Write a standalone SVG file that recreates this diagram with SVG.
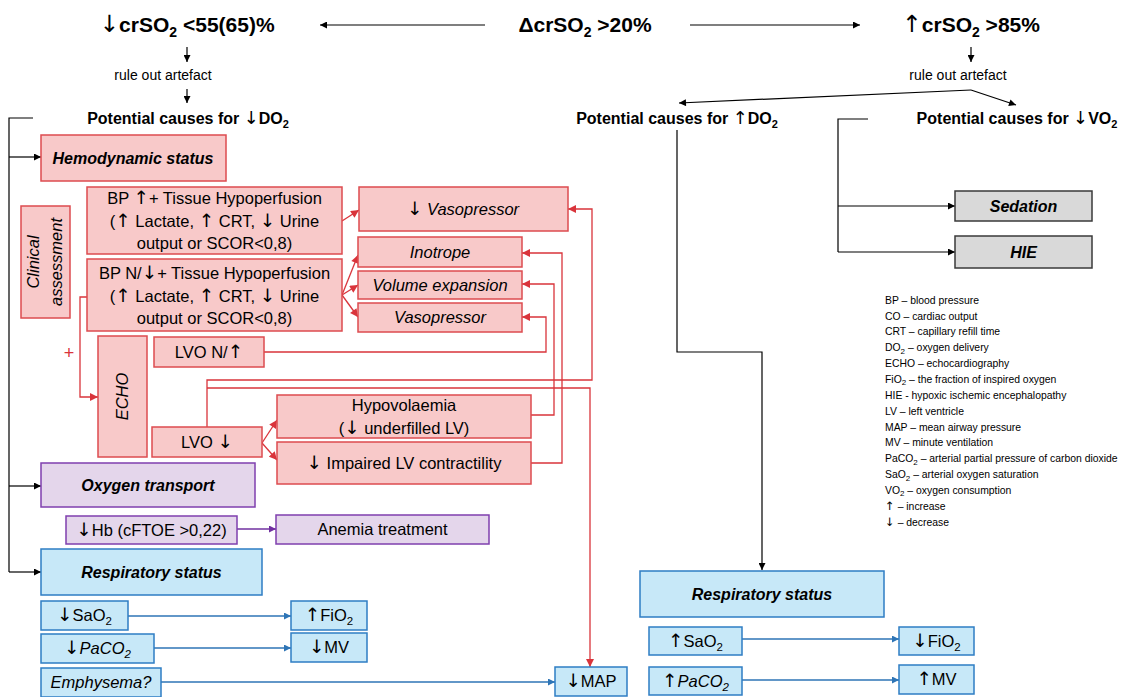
<svg xmlns="http://www.w3.org/2000/svg" width="1126" height="697" viewBox="0 0 1126 697">
<defs>
<style>
text{font-family:"Liberation Sans",Arial,sans-serif;fill:#000}
.title{font-size:21px;font-weight:bold}
.pc{font-size:16px;font-weight:bold}
.small{font-size:14px}
.t{font-size:16.5px}
.it{font-style:italic}
.hd{font-size:16px;font-weight:bold;font-style:italic}
.leg{font-size:10.4px}
.a{font-family:"DejaVu Sans",sans-serif;font-size:112%;font-weight:normal;font-style:normal}
.red{fill:#f8c9c9;stroke:#dd4b4f;stroke-width:1.5}
.pur{fill:#e4d6eb;stroke:#7f3fae;stroke-width:1.5}
.blu{fill:#c7e8f8;stroke:#2e7dc4;stroke-width:1.5}
.gry{fill:#d9d9d9;stroke:#3a3a3a;stroke-width:1.5}
.ck{fill:none;stroke:#000;stroke-width:1.2}
.cr{fill:none;stroke:#d9343b;stroke-width:1.3}
.cb{fill:none;stroke:#2e75b6;stroke-width:1.3}
.cp{fill:none;stroke:#7030a0;stroke-width:1.5}
</style>
<marker id="ak" viewBox="0 0 10 10" refX="10" refY="5" markerWidth="8" markerHeight="7" markerUnits="userSpaceOnUse" orient="auto"><path d="M0,0 L10,5 L0,10 z" fill="#000"/></marker>
<marker id="ar" viewBox="0 0 10 10" refX="10" refY="5" markerWidth="9" markerHeight="8" markerUnits="userSpaceOnUse" orient="auto"><path d="M0,0 L10,5 L0,10 z" fill="#d9343b"/></marker>
<marker id="ab" viewBox="0 0 10 10" refX="10" refY="5" markerWidth="9" markerHeight="7" markerUnits="userSpaceOnUse" orient="auto"><path d="M0,0 L10,5 L0,10 z" fill="#2e75b6"/></marker>
<marker id="ap" viewBox="0 0 10 10" refX="10" refY="5" markerWidth="9" markerHeight="7" markerUnits="userSpaceOnUse" orient="auto"><path d="M0,0 L10,5 L0,10 z" fill="#7030a0"/></marker>
</defs>
<rect width="1126" height="697" fill="#fff"/>

<g id="connectors">
<line class="ck" x1="485" y1="25" x2="320" y2="25" marker-end="url(#ak)"/>
<line class="ck" x1="690" y1="25" x2="860" y2="25" marker-end="url(#ak)"/>
<line class="ck" x1="187" y1="47" x2="187" y2="62" marker-end="url(#ak)"/>
<line class="ck" x1="187" y1="89" x2="187" y2="103" marker-end="url(#ak)"/>
<line class="ck" x1="971" y1="47" x2="971" y2="62" marker-end="url(#ak)"/>
<line class="ck" x1="971" y1="90" x2="679" y2="103" marker-end="url(#ak)"/>
<line class="ck" x1="971" y1="90" x2="1016" y2="105" marker-end="url(#ak)"/>
<polyline class="ck" points="33,118 9,118 9,572"/>
<line class="ck" x1="9" y1="157" x2="41" y2="157" marker-end="url(#ak)"/>
<line class="ck" x1="9" y1="486" x2="41" y2="486" marker-end="url(#ak)"/>
<line class="ck" x1="9" y1="572" x2="41" y2="572" marker-end="url(#ak)"/>
<polyline class="ck" points="868,119 838,119 838,252"/>
<line class="ck" x1="838" y1="206" x2="955" y2="206" marker-end="url(#ak)"/>
<line class="ck" x1="838" y1="252" x2="955" y2="252" marker-end="url(#ak)"/>
<polyline class="ck" points="677,130 677,352 762,352 762,570" marker-end="url(#ak)"/>

<line class="cr" x1="342" y1="221" x2="359" y2="210" marker-end="url(#ar)"/>
<line class="cr" x1="342" y1="295" x2="358" y2="255" marker-end="url(#ar)"/>
<line class="cr" x1="342" y1="295" x2="358" y2="285" marker-end="url(#ar)"/>
<line class="cr" x1="342" y1="295" x2="358" y2="317" marker-end="url(#ar)"/>
<polyline class="cr" points="87,297 80,297 80,397 98,397" marker-end="url(#ar)"/>
<polyline class="cr" points="264,352 546,352 546,317 522,317" marker-end="url(#ar)"/>
<polyline class="cr" points="531,415 554,415 554,284 522,284" marker-end="url(#ar)"/>
<polyline class="cr" points="531,463 562,463 562,253 522,253" marker-end="url(#ar)"/>
<polyline class="cr" points="207,427 207,380 592,380 592,209 568,209" marker-end="url(#ar)"/>
<polyline class="cr" points="207,388 590,388 590,667" marker-end="url(#ar)"/>
<line class="cr" x1="262" y1="443" x2="277" y2="420" marker-end="url(#ar)"/>
<line class="cr" x1="262" y1="443" x2="277" y2="460" marker-end="url(#ar)"/>

<line class="cp" x1="237" y1="529" x2="276" y2="529" marker-end="url(#ap)"/>

<line class="cb" x1="128" y1="616" x2="291" y2="616" marker-end="url(#ab)"/>
<line class="cb" x1="154" y1="648" x2="291" y2="648" marker-end="url(#ab)"/>
<line class="cb" x1="161" y1="682" x2="555" y2="682" marker-end="url(#ab)"/>
<line class="cb" x1="742" y1="639" x2="899" y2="639" marker-end="url(#ab)"/>
<line class="cb" x1="742" y1="680" x2="899" y2="680" marker-end="url(#ab)"/>
</g>

<g id="n-low"><text class="title" x="187" y="32" text-anchor="middle"><tspan class="a">↓</tspan>crSO<tspan dy="5" font-size="14">2</tspan><tspan dy="-5"> &lt;55(65)%</tspan></text></g>
<g id="n-delta"><text class="title" x="585" y="32" text-anchor="middle">ΔcrSO<tspan dy="5" font-size="14">2</tspan><tspan dy="-5"> &gt;20%</tspan></text></g>
<g id="n-high"><text class="title" x="971" y="32" text-anchor="middle"><tspan class="a">↑</tspan>crSO<tspan dy="5" font-size="14">2</tspan><tspan dy="-5"> &gt;85%</tspan></text></g>
<g id="n-rule1"><text class="small" x="163" y="80" text-anchor="middle">rule out artefact</text></g>
<g id="n-rule2"><text class="small" x="958" y="80" text-anchor="middle">rule out artefact</text></g>
<g id="n-pc-do2-low"><text class="pc" x="188" y="124" text-anchor="middle">Potential causes for <tspan class="a">↓</tspan>DO<tspan dy="4" font-size="11">2</tspan></text></g>
<g id="n-pc-do2-high"><text class="pc" x="677" y="124" text-anchor="middle">Potential causes for <tspan class="a">↑</tspan>DO<tspan dy="4" font-size="11">2</tspan></text></g>
<g id="n-pc-vo2"><text class="pc" x="1017" y="124" text-anchor="middle">Potential causes for <tspan class="a">↓</tspan>VO<tspan dy="4" font-size="11">2</tspan></text></g>

<g id="n-hemo"><rect class="red" x="41" y="135" width="185" height="46"/><text class="hd" x="133" y="163.6" text-anchor="middle">Hemodynamic status</text></g>
<g id="n-clinical"><rect class="red" x="21" y="206" width="49" height="112"/><g transform="translate(45,262) rotate(-90)"><text class="t it" x="0" y="-6.5" text-anchor="middle">Clinical</text><text class="t it" x="0" y="16.5" text-anchor="middle">assessment</text></g></g>
<g id="n-bp-high"><rect class="red" x="87" y="187" width="255" height="67"/>
<text class="t" x="214.5" y="203.8" text-anchor="middle">BP <tspan class="a">↑</tspan>+ Tissue Hypoperfusion</text>
<text class="t" x="214.5" y="226.8" text-anchor="middle">(<tspan class="a">↑</tspan> Lactate, <tspan class="a">↑</tspan> CRT, <tspan class="a">↓</tspan> Urine</text>
<text class="t" x="214.5" y="248.8" text-anchor="middle">output or SCOR&lt;0,8)</text></g>
<g id="n-bp-low"><rect class="red" x="87" y="259" width="255" height="72"/>
<text class="t" x="214.5" y="278.8" text-anchor="middle">BP N/<tspan class="a">↓</tspan>+ Tissue Hypoperfusion</text>
<text class="t" x="214.5" y="301.8" text-anchor="middle">(<tspan class="a">↑</tspan> Lactate, <tspan class="a">↑</tspan> CRT, <tspan class="a">↓</tspan> Urine</text>
<text class="t" x="214.5" y="323.8" text-anchor="middle">output or SCOR&lt;0,8)</text></g>
<g id="n-vaso-down"><rect class="red" x="359" y="187" width="209" height="44"/><text class="t" x="463" y="214.8" text-anchor="middle"><tspan class="a">↓</tspan> <tspan class="it">Vasopressor</tspan></text></g>
<g id="n-inotrope"><rect class="red" x="358" y="237" width="164" height="30"/><text class="t it" x="440" y="257.8" text-anchor="middle">Inotrope</text></g>
<g id="n-volume"><rect class="red" x="358" y="271" width="164" height="28"/><text class="t it" x="440" y="290.8" text-anchor="middle">Volume expansion</text></g>
<g id="n-vaso"><rect class="red" x="358" y="303" width="164" height="29"/><text class="t it" x="440" y="323.3" text-anchor="middle">Vasopressor</text></g>
<g id="n-plus"><text x="69" y="359" text-anchor="middle" font-size="18" style="fill:#d9343b">+</text></g>
<g id="n-echo"><rect class="red" x="98" y="336" width="49" height="121"/><g transform="translate(122.5,396.5) rotate(-90)"><text class="t it" x="0" y="5.8" text-anchor="middle">ECHO</text></g></g>
<g id="n-lvo-n"><rect class="red" x="154" y="337" width="110" height="30"/><text class="t" x="209" y="357.8" text-anchor="middle">LVO N/<tspan class="a">↑</tspan></text></g>
<g id="n-lvo-down"><rect class="red" x="152" y="427" width="110" height="30"/><text class="t" x="207" y="447.8" text-anchor="middle">LVO <tspan class="a">↓</tspan></text></g>
<g id="n-hypovol"><rect class="red" x="277" y="395" width="254" height="43"/><text class="t" x="404" y="410.8" text-anchor="middle">Hypovolaemia</text><text class="t" x="404" y="433.8" text-anchor="middle">(<tspan class="a">↓</tspan> underfilled LV)</text></g>
<g id="n-impaired"><rect class="red" x="277" y="442" width="254" height="42"/><text class="t" x="404" y="468.8" text-anchor="middle"><tspan class="a">↓</tspan> Impaired LV contractility</text></g>

<g id="n-oxygen"><rect class="pur" x="41" y="463" width="214" height="44"/><text class="hd" x="148" y="491" text-anchor="middle">Oxygen transport</text></g>
<g id="n-hb"><rect class="pur" x="66" y="516" width="171" height="28"/><text class="t" x="151.5" y="535.8" text-anchor="middle"><tspan class="a">↓</tspan>Hb (cFTOE &gt;0,22)</text></g>
<g id="n-anemia"><rect class="pur" x="276" y="515" width="213" height="29"/><text class="t" x="382.5" y="535.3" text-anchor="middle">Anemia treatment</text></g>

<g id="n-resp-left"><rect class="blu" x="41" y="549" width="221" height="46"/><text class="hd" x="151.5" y="577.6" text-anchor="middle">Respiratory status</text></g>
<g id="n-sao2-down"><rect class="blu" x="41" y="601" width="87" height="29"/><text class="t" x="84.5" y="621" text-anchor="middle"><tspan class="a">↓</tspan>SaO<tspan dy="4" font-size="11.5">2</tspan></text></g>
<g id="n-fio2-up"><rect class="blu" x="291" y="601" width="76" height="29"/><text class="t" x="329" y="621" text-anchor="middle"><tspan class="a">↑</tspan>FiO<tspan dy="4" font-size="11.5">2</tspan></text></g>
<g id="n-paco2-down"><rect class="blu" x="41" y="634" width="113" height="29"/><text class="t" x="97.5" y="654" text-anchor="middle"><tspan class="a">↓</tspan><tspan class="it">PaCO</tspan><tspan class="it" dy="4" font-size="11.5">2</tspan></text></g>
<g id="n-mv-down"><rect class="blu" x="291" y="633" width="76" height="29"/><text class="t" x="329" y="653" text-anchor="middle"><tspan class="a">↓</tspan>MV</text></g>
<g id="n-emphysema"><rect class="blu" x="41" y="668" width="120" height="29"/><text class="t it" x="101" y="688" text-anchor="middle">Emphysema?</text></g>
<g id="n-map"><rect class="blu" x="555" y="667" width="72" height="29"/><text class="t" x="591" y="687" text-anchor="middle"><tspan class="a">↓</tspan>MAP</text></g>

<g id="n-resp-right"><rect class="blu" x="640" y="571" width="244" height="46"/><text class="hd" x="762" y="599.6" text-anchor="middle">Respiratory status</text></g>
<g id="n-sao2-up"><rect class="blu" x="649" y="627" width="93" height="28"/><text class="t" x="695.5" y="646.8" text-anchor="middle"><tspan class="a">↑</tspan>SaO<tspan dy="4" font-size="11.5">2</tspan></text></g>
<g id="n-fio2-down"><rect class="blu" x="899" y="627" width="75" height="28"/><text class="t" x="936.5" y="646.8" text-anchor="middle"><tspan class="a">↓</tspan>FiO<tspan dy="4" font-size="11.5">2</tspan></text></g>
<g id="n-paco2-up"><rect class="blu" x="649" y="667" width="93" height="28"/><text class="t" x="695.5" y="686.8" text-anchor="middle"><tspan class="a">↑</tspan><tspan class="it">PaCO</tspan><tspan class="it" dy="4" font-size="11.5">2</tspan></text></g>
<g id="n-mv-up"><rect class="blu" x="899" y="665" width="75" height="29"/><text class="t" x="936.5" y="685.3" text-anchor="middle"><tspan class="a">↑</tspan>MV</text></g>

<g id="n-sedation"><rect class="gry" x="955" y="191" width="137" height="30"/><text class="hd" x="1023.5" y="211.6" text-anchor="middle">Sedation</text></g>
<g id="n-hie"><rect class="gry" x="955" y="236" width="137" height="32"/><text class="hd" x="1023.5" y="257.6" text-anchor="middle">HIE</text></g>

<g id="legend">
<text class="leg" x="885" y="303.7">BP – blood pressure</text>
<text class="leg" x="885" y="319.5">CO – cardiac output</text>
<text class="leg" x="885" y="335.4">CRT – capillary refill time</text>
<text class="leg" x="885" y="351.2">DO<tspan dy="2.5" font-size="8">2</tspan><tspan dy="-2.5"> – oxygen delivery</tspan></text>
<text class="leg" x="885" y="367.1">ECHO – echocardiography</text>
<text class="leg" x="885" y="382.9">FiO<tspan dy="2.5" font-size="8">2</tspan><tspan dy="-2.5"> – the fraction of inspired oxygen</tspan></text>
<text class="leg" x="885" y="398.8">HIE - hypoxic ischemic encephalopathy</text>
<text class="leg" x="885" y="414.6">LV – left ventricle</text>
<text class="leg" x="885" y="430.5">MAP – mean airway pressure</text>
<text class="leg" x="885" y="446.3">MV – minute ventilation</text>
<text class="leg" x="885" y="462.2">PaCO<tspan dy="2.5" font-size="8">2</tspan><tspan dy="-2.5"> – arterial partial pressure of carbon dioxide</tspan></text>
<text class="leg" x="885" y="478">SaO<tspan dy="2.5" font-size="8">2</tspan><tspan dy="-2.5"> – arterial oxygen saturation</tspan></text>
<text class="leg" x="885" y="493.9">VO<tspan dy="2.5" font-size="8">2</tspan><tspan dy="-2.5"> – oxygen consumption</tspan></text>
<text class="leg" x="885" y="509.7"><tspan class="a">↑</tspan> – increase</text>
<text class="leg" x="885" y="525.6"><tspan class="a">↓</tspan> – decrease</text>
</g>
</svg>
